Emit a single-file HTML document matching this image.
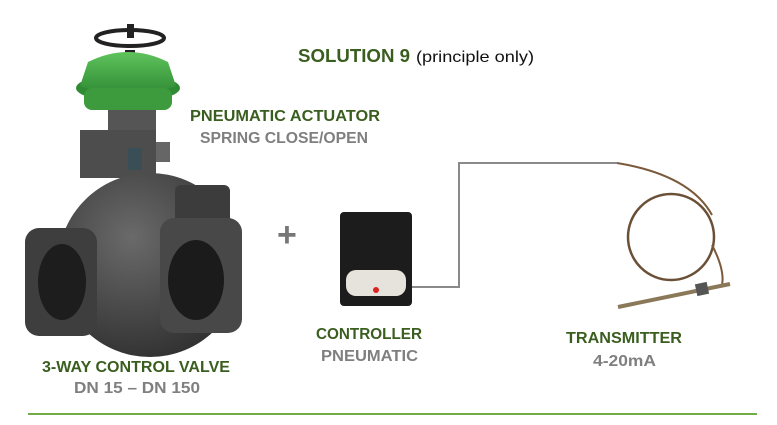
<!DOCTYPE html>
<html><head><meta charset="utf-8"><style>
html,body{margin:0;padding:0;background:#fff;width:777px;height:425px;overflow:hidden}
svg{display:block}
text{font-family:"Liberation Sans",sans-serif;font-weight:bold}
</style></head><body>
<svg width="777" height="425" viewBox="0 0 777 425" xmlns="http://www.w3.org/2000/svg">
<defs>
<radialGradient id="sph" cx="0.4" cy="0.35" r="0.7"><stop offset="0" stop-color="#6a6a6a"/><stop offset="1" stop-color="#303030"/></radialGradient>
<linearGradient id="grn" x1="0" y1="0" x2="0" y2="1"><stop offset="0" stop-color="#5fc35c"/><stop offset="1" stop-color="#2f8a33"/></linearGradient>
</defs>
<!-- valve -->
<rect x="125" y="50" width="10" height="20" fill="#222"/>
<ellipse cx="130" cy="38" rx="34" ry="8" fill="none" stroke="#222" stroke-width="4"/>
<rect x="127" y="24" width="7" height="14" fill="#222"/>
<ellipse cx="128" cy="88" rx="52" ry="14" fill="#2f8a33"/>
<path d="M88 62 Q128 42 168 62 L176 86 Q128 104 80 86 Z" fill="url(#grn)"/>
<rect x="84" y="88" width="88" height="22" rx="8" fill="#3d9a3d"/>
<rect x="108" y="110" width="48" height="25" fill="#555"/>
<rect x="80" y="130" width="76" height="48" fill="#4d4d4d"/>
<rect x="128" y="148" width="14" height="22" fill="#3a4f55"/>
<rect x="130" y="176" width="12" height="2" fill="#3cc"/>
<rect x="156" y="142" width="14" height="20" fill="#666"/>
<circle cx="150" cy="265" r="92" fill="url(#sph)"/>
<rect x="175" y="185" width="55" height="130" rx="6" fill="#3c3c3c"/>
<rect x="25" y="228" width="72" height="108" rx="14" fill="#3e3e3e"/>
<ellipse cx="62" cy="282" rx="24" ry="38" fill="#1d1d1d"/>
<rect x="160" y="218" width="82" height="115" rx="14" fill="#484848"/>
<ellipse cx="196" cy="280" rx="28" ry="40" fill="#1b1b1b"/>
<!-- plus -->
<text x="277" y="246" font-size="34" fill="#777">+</text>
<!-- controller -->
<rect x="340" y="212" width="72" height="94" rx="4" fill="#1c1c1c"/>
<rect x="346" y="270" width="60" height="26" rx="10" fill="#e6e2dc"/>
<circle cx="376" cy="290" r="3" fill="#d22"/>
<path d="M412 287 H459 V163 H617" fill="none" stroke="#8a8a8a" stroke-width="2"/>
<!-- transmitter -->
<path d="M617 163 Q690 175 712 215" fill="none" stroke="#7a5a3a" stroke-width="2"/>
<circle cx="671" cy="237" r="43" fill="none" stroke="#6b5038" stroke-width="2.5"/>
<path d="M712 245 Q725 270 722 285" fill="none" stroke="#7a5a3a" stroke-width="2"/>
<path d="M618 307 L730 284" stroke="#8a7858" stroke-width="4"/>
<rect x="696" y="283" width="12" height="12" fill="#555" transform="rotate(-12 702 289)"/>
<!-- text -->
<text x="298" y="62" font-size="18" fill="#3a5e1f" textLength="112" lengthAdjust="spacingAndGlyphs">SOLUTION 9</text>
<text x="416" y="62" font-size="16" font-weight="normal" fill="#111" style="font-weight:normal" textLength="118" lengthAdjust="spacingAndGlyphs">(principle only)</text>
<text x="190" y="121" font-size="16" fill="#3a5e1f" textLength="190" lengthAdjust="spacingAndGlyphs">PNEUMATIC ACTUATOR</text>
<text x="200" y="143" font-size="16" fill="#7f7f7f" textLength="168" lengthAdjust="spacingAndGlyphs">SPRING CLOSE/OPEN</text>
<text x="42" y="372" font-size="16" fill="#3a5e1f" textLength="188" lengthAdjust="spacingAndGlyphs">3-WAY CONTROL VALVE</text>
<text x="74" y="393" font-size="16" fill="#7f7f7f" textLength="126" lengthAdjust="spacingAndGlyphs">DN 15 – DN 150</text>
<text x="316" y="339" font-size="16" fill="#3a5e1f" textLength="106" lengthAdjust="spacingAndGlyphs">CONTROLLER</text>
<text x="321" y="361" font-size="16" fill="#7f7f7f" textLength="97" lengthAdjust="spacingAndGlyphs">PNEUMATIC</text>
<text x="566" y="343" font-size="16" fill="#3a5e1f" textLength="116" lengthAdjust="spacingAndGlyphs">TRANSMITTER</text>
<text x="593" y="366" font-size="16" fill="#7f7f7f" textLength="63" lengthAdjust="spacingAndGlyphs">4-20mA</text>
<line x1="28" y1="414" x2="757" y2="414" stroke="#70ad47" stroke-width="2"/>
</svg>
</body></html>
